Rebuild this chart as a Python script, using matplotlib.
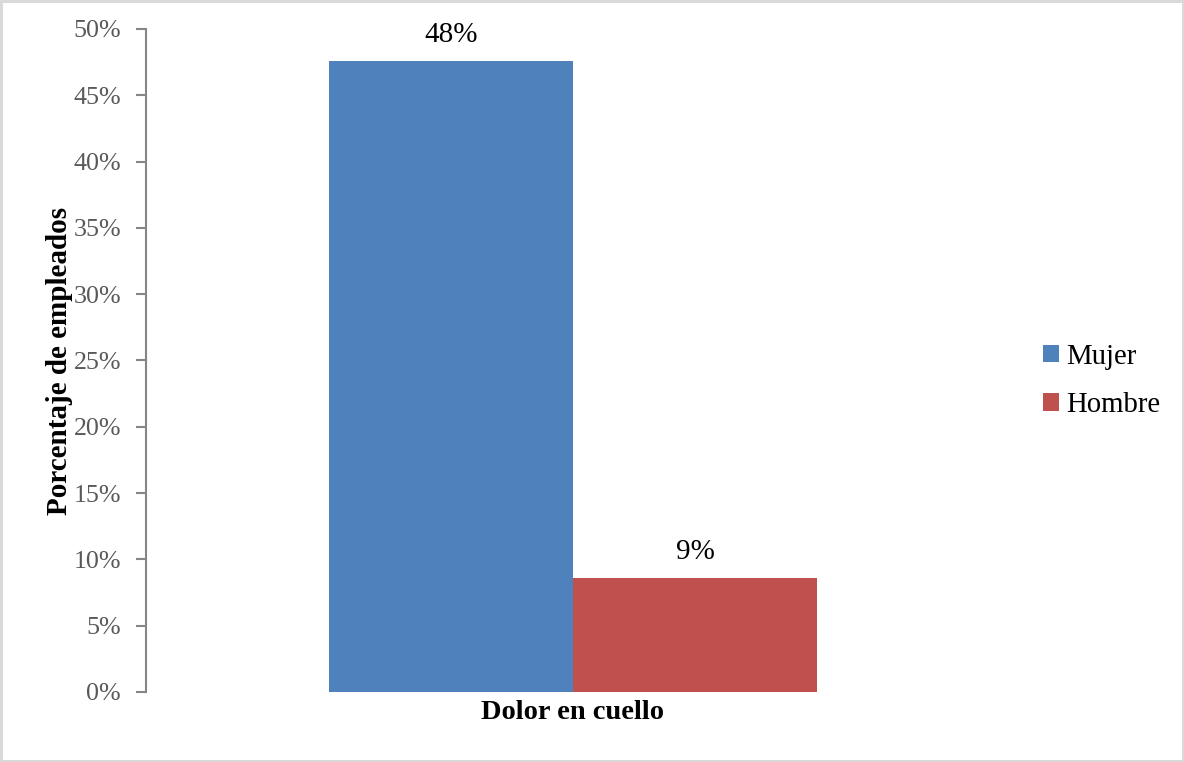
import matplotlib.pyplot as plt
from matplotlib.ticker import PercentFormatter

# neck pain share of employees, by sex
category = "Dolor en cuello"
series = ["Mujer", "Hombre"]
values = [0.476, 0.086]
colors = ["#4f81bd", "#c0504d"]
yticks = [0, 0.05, 0.10, 0.15, 0.20, 0.25, 0.30, 0.35, 0.40, 0.45, 0.50]

plt.rcParams["font.family"] = ["Liberation Serif", "DejaVu Serif"]

fig = plt.figure(figsize=(11.84, 7.62), dpi=100)
fig.patch.set_edgecolor("#d9d9d9")
fig.patch.set_linewidth(2.5)
ax = fig.add_axes([0.1233, 0.0919, 0.7213, 0.8701])

width = 0.286
handles = []
for i, (name, v, c) in enumerate(zip(series, values, colors)):
    x = (i - 0.5) * width
    bars = ax.bar(x, v, width=width, color=c, label=name)
    handles.append(bars)
    ax.bar_label(bars, labels=[f"{round(v * 100):d}%"], padding=9,
                 fontsize=21, color="black")

ax.set_xlim(-0.5, 0.5)
ax.set_ylim(0, 0.5)
ax.set_yticks(yticks)
ax.yaxis.set_major_formatter(PercentFormatter(1.0, decimals=0))
ax.set_xticks([0])
ax.set_xticklabels([category], fontsize=20.5, fontweight="bold")
ax.tick_params(axis="x", length=0, pad=6)
ax.tick_params(axis="y", labelsize=18.7, labelcolor="#595959", color="#868686",
               length=7, width=1.5, pad=11)
for s in ["top", "right", "bottom"]:
    ax.spines[s].set_visible(False)
ax.spines["left"].set_color("#868686")
ax.spines["left"].set_linewidth(1.5)
ax.set_ylabel("Porcentaje de empleados", fontsize=21, fontweight="bold", labelpad=0)

fig.legend(handles=handles, labels=series, loc="center left",
           bbox_to_anchor=(1043 / 1184, 1 - 381 / 762), frameon=False,
           fontsize=20.7, handlelength=0.55, handleheight=0.55, handletextpad=0.25,
           labelspacing=0.78, borderaxespad=0, borderpad=0)

fig.savefig("out.png", dpi=100)
